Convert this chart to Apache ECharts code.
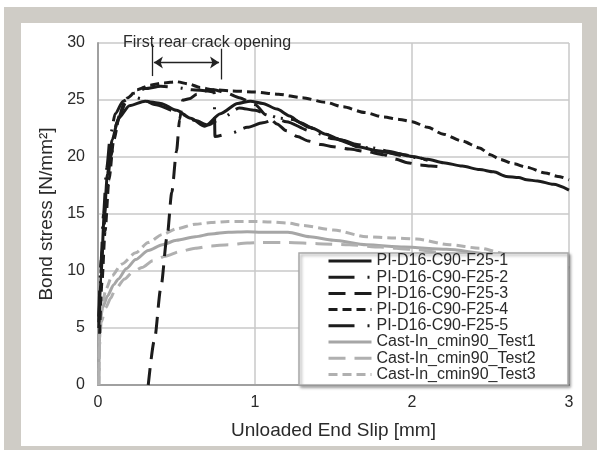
<!DOCTYPE html>
<html>
<head>
<meta charset="utf-8">
<script src="https://cdn.jsdelivr.net/npm/echarts@6/dist/echarts.min.js"></script>
<style>
html,body{margin:0;padding:0;background:#fff;}
#c{width:597px;height:450px;}
</style>
</head>
<body>
<div id="c"></div>
<script>
// ---- data (slip [mm], bond stress [N/mm2]) ----
const seriesNames = [
  'PI-D16-C90-F25-1','PI-D16-C90-F25-2','PI-D16-C90-F25-3','PI-D16-C90-F25-4','PI-D16-C90-F25-5',
  'Cast-In_cmin90_Test1','Cast-In_cmin90_Test2','Cast-In_cmin90_Test3'
];
const xTicks = [0, 1, 2, 3];
const yTicks = [0, 5, 10, 15, 20, 25, 30];

const pi1 = [[0.005,5],[0.02,10],[0.04,15],[0.06,18.5],[0.09,21.5],[0.13,23.4],[0.2,24.5],[0.3,24.9],[0.4,24.7],[0.5,24.1],[0.59,23.4],[0.68,22.7],[0.78,23.8],[0.89,24.7],[0.97,24.9],[1.05,24.7],[1.14,24.2],[1.22,23.6],[1.29,23.0],[1.37,22.5],[1.45,22.0],[1.55,21.5],[1.65,20.9],[1.8,20.5],[1.9,20.3],[2.0,20.05],[2.1,19.8],[2.2,19.5],[2.32,19.2],[2.43,18.9],[2.52,18.7],[2.6,18.3],[2.68,18.2],[2.73,18.0],[2.8,17.9],[2.9,17.6],[3.0,17.1]];
const pi2 = [[0.005,5.5],[0.03,12],[0.05,16],[0.08,20],[0.12,23],[0.17,24.8],[0.23,25.6],[0.3,26.0],[0.4,26.2],[0.5,26.1],[0.6,25.9],[0.7,25.8],[0.74,25.7],[0.745,21.8],[0.85,22.1],[0.95,22.6],[1.05,23.0],[1.15,23.4],[1.24,23.3],[1.35,22.6],[1.45,22.0],[1.55,21.5],[1.65,21.1],[1.75,20.8],[1.85,20.5],[1.95,20.2],[2.05,19.9],[2.12,19.7]];
const pi3 = [[0.32,0],[0.36,4],[0.4,8.5],[0.44,13],[0.47,16.9],[0.5,20.5],[0.52,23.3],[0.54,25.0],[0.58,25.1],[0.63,25.5],[0.68,25.8],[0.74,25.9],[0.82,25.6],[0.9,25.2],[1.0,24.6],[1.07,23.7],[1.14,22.9],[1.2,22.3],[1.27,21.8],[1.34,21.4],[1.42,21.1],[1.5,20.9],[1.6,20.7],[1.7,20.5],[1.82,20.2],[1.9,19.8],[1.97,19.5],[2.05,19.3],[2.12,19.2],[2.2,19.1]];
const pi4 = [[0.01,4.5],[0.025,9],[0.045,13.5],[0.07,18],[0.1,21.5],[0.14,23.8],[0.19,25.2],[0.25,25.9],[0.33,26.3],[0.42,26.5],[0.5,26.6],[0.58,26.4],[0.65,26.1],[0.73,25.9],[0.85,25.8],[1.0,25.7],[1.15,25.5],[1.3,25.2],[1.45,24.8],[1.56,24.4],[1.7,23.9],[1.82,23.5],[1.92,23.3],[2.0,23.1],[2.1,22.6],[2.2,22.0],[2.32,21.4],[2.43,20.8],[2.5,20.2],[2.56,19.8],[2.65,19.4],[2.73,19.1],[2.85,18.6],[2.93,18.3],[3.0,18.0]];
const pi5 = [[0.005,6],[0.02,11],[0.035,15],[0.055,19],[0.08,22],[0.11,23.8],[0.16,24.9],[0.22,25.3],[0.28,25.1],[0.36,24.6],[0.5,24.0],[0.62,23.2],[0.7,22.8],[0.8,23.5],[0.9,24.3],[1.0,24.1],[1.1,23.6],[1.2,23.1],[1.35,22.3],[1.5,21.6],[1.65,21.0],[1.8,20.5],[1.95,20.1],[2.1,19.7]];
const ci1 = [[0.005,0],[0.008,3],[0.012,5.5],[0.03,6.8],[0.06,7.8],[0.1,8.8],[0.13,9.3],[0.18,10.2],[0.24,11.0],[0.32,11.8],[0.41,12.3],[0.5,12.7],[0.62,13.0],[0.72,13.25],[0.83,13.4],[0.95,13.45],[1.04,13.4],[1.21,13.4],[1.35,13.0],[1.5,12.7],[1.71,12.3],[1.95,12.1],[2.22,11.9],[2.5,11.5],[2.8,10.8],[3.0,10.2]];
const ci2 = [[0.005,0],[0.01,3.5],[0.02,5.5],[0.05,6.8],[0.08,7.6],[0.11,8.4],[0.17,9.3],[0.22,9.9],[0.28,10.3],[0.35,10.9],[0.43,11.3],[0.52,11.7],[0.62,12.0],[0.72,12.2],[0.83,12.3],[0.95,12.45],[1.04,12.5],[1.21,12.5],[1.4,12.4],[1.6,12.3],[1.8,12.1],[2.0,11.9],[2.3,11.4],[2.6,10.9],[2.85,10.4],[3.0,10.0]];
const ci3 = [[0.005,0],[0.01,4],[0.015,5.8],[0.03,7.3],[0.05,8.4],[0.09,9.6],[0.15,10.6],[0.24,11.6],[0.32,12.5],[0.41,13.2],[0.5,13.7],[0.62,14.1],[0.72,14.25],[0.83,14.35],[1.0,14.35],[1.1,14.3],[1.21,14.2],[1.3,14.0],[1.5,13.6],[1.71,13.0],[1.87,12.9],[2.03,12.8],[2.24,12.3],[2.43,12.0],[2.6,11.5],[2.8,10.9],[3.0,10.3]];

// annotation: crack opening range
const crackStart = 0.344, crackEnd = 0.783;
const annotationText = 'First rear crack opening';

const allData = [pi1, pi2, pi3, pi4, pi5, ci1, ci2, ci3];
const BLACK = '#1c1c1c', GRAY = '#a6a6a6', GRAY2 = '#b0b0b0';
const styles = [
  {color: BLACK, type: 'solid'},
  {color: BLACK, type: [26, 13, 2, 8]},
  {color: BLACK, type: [17, 9]},
  {color: BLACK, type: [9, 5]},
  {color: BLACK, type: [26, 13, 2, 8]},
  {color: GRAY, type: 'solid'},
  {color: GRAY2, type: [17, 9]},
  {color: GRAY2, type: [9, 5]}
];
const FONT = '"Liberation Sans", Arial, sans-serif';
const TXT = '#2a2a2a';

const chart = echarts.init(document.getElementById('c'), null, {renderer: 'canvas'});

const series = allData.map((d, i) => ({
  name: seriesNames[i],
  type: 'line',
  data: d,
  symbol: 'none',
  smooth: 0.25,
  smoothMonotone: 'x',
  z: i < 5 ? 2 : 1,
  lineStyle: {color: styles[i].color, width: 3, type: styles[i].type},
  itemStyle: {color: styles[i].color},
  emphasis: {disabled: true}
}));

series[0].markLine = {
  silent: true,
  animation: false,
  label: {show: false},
  emphasis: {disabled: true},
  lineStyle: {color: '#222', width: 1.3, type: 'solid'},
  symbolSize: 9,
  data: [
    [{coord: [crackStart, 29.9], symbol: 'none'}, {coord: [crackStart, 27.1], symbol: 'none'}],
    [{coord: [crackEnd, 29.5], symbol: 'none'}, {coord: [crackEnd, 26.8], symbol: 'none'}],
    [{coord: [crackStart + 0.012, 28.3], symbol: 'arrow'}, {coord: [crackEnd - 0.012, 28.3], symbol: 'arrow'}]
  ]
};

chart.setOption({
  animation: false,
  backgroundColor: '#fff',
  textStyle: {fontFamily: FONT},
  grid: {left: 98, right: 28, top: 43, bottom: 65, containLabel: false},
  graphic: [
    {type: 'rect', z: -10, shape: {x: 4, y: 7, width: 593, height: 443}, style: {fill: '#cfccc6'}, silent: true},
    {type: 'rect', z: -9, shape: {x: 21, y: 23, width: 561, height: 423}, style: {fill: '#ffffff'}, silent: true},
    {type: 'rect', z: 3, shape: {x: 299, y: 253, width: 269, height: 132},
      style: {fill: '#fff', stroke: '#a8a8a8', lineWidth: 1.5, shadowBlur: 3, shadowOffsetX: 2, shadowOffsetY: 2, shadowColor: 'rgba(0,0,0,0.35)'}, silent: true},
    {type: 'text', z: 5, x: 123, y: 43,
      style: {text: annotationText, fontSize: 16, fontFamily: FONT, fill: TXT, verticalAlign: 'middle'}, silent: true}
  ],
  legend: {
    show: true,
    data: seriesNames,
    orient: 'vertical',
    left: 327,
    top: 253,
    padding: 0,
    itemWidth: 43,
    itemHeight: 14,
    itemGap: 0.2,
    selectedMode: false,
    textStyle: {fontSize: 16, color: TXT, fontFamily: FONT},
    itemStyle: {opacity: 0},
    lineStyle: {width: 3}
  },
  xAxis: {
    type: 'value',
    min: 0, max: 3, interval: 1,
    name: 'Unloaded End Slip [mm]',
    nameLocation: 'middle',
    nameGap: 36,
    nameTextStyle: {fontSize: 19, color: TXT, fontFamily: FONT},
    axisLine: {show: true, onZero: false, lineStyle: {color: '#a0a0a0', width: 2}},
    axisTick: {show: false},
    axisLabel: {fontSize: 16, color: TXT, margin: 10, fontFamily: FONT,
      formatter: v => xTicks.indexOf(v) >= 0 ? String(v) : ''},
    splitLine: {show: true, lineStyle: {color: '#c8c8c8', width: 1.5}}
  },
  yAxis: {
    type: 'value',
    min: 0, max: 30, interval: 5,
    name: 'Bond stress [N/mm²]',
    nameLocation: 'middle',
    nameGap: 41,
    nameTextStyle: {fontSize: 19, color: TXT, fontFamily: FONT},
    axisLine: {show: true, lineStyle: {color: '#a0a0a0', width: 2}},
    axisTick: {show: false},
    axisLabel: {fontSize: 16, color: TXT, margin: 13, fontFamily: FONT,
      formatter: v => yTicks.indexOf(v) >= 0 ? String(v) : ''},
    splitLine: {show: true, lineStyle: {color: '#c8c8c8', width: 1.5}}
  },
  series: series
});
</script>
</body>
</html>
